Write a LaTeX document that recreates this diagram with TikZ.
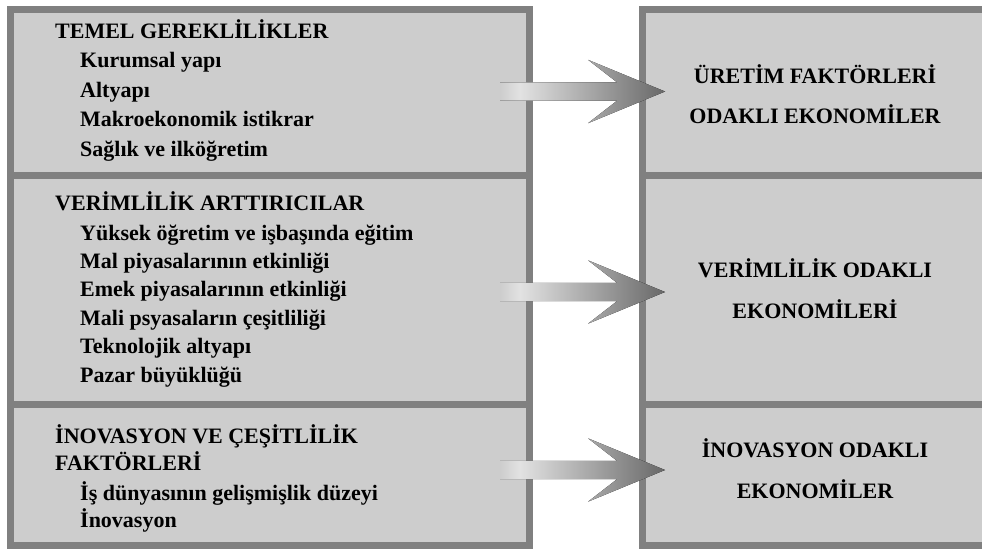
\documentclass[tikz,border=0pt]{standalone}
\usepackage{fontspec}
\setmainfont{Liberation Serif}
\definecolor{boxfill}{HTML}{CDCDCD}
\definecolor{boxline}{HTML}{808080}
\definecolor{arrlight}{HTML}{E2E2E2}
\definecolor{arrdark}{HTML}{686868}
\pgfdeclarehorizontalshading{arrowshade}{100bp}{color(0bp)=(boxfill); color(25bp)=(boxfill); color(31bp)=(arrlight); color(75bp)=(arrdark); color(100bp)=(arrdark)}
\begin{document}
\begin{tikzpicture}[x=1pt,y=-1pt,
  panel/.style={draw=boxline, fill=boxfill, line width=7pt, inner sep=0pt, outer sep=0pt, anchor=north west},
  head/.style={font=\fontsize{22}{26}\selectfont\bfseries, anchor=base west, inner sep=0pt},
  goal/.style={font=\fontsize{22}{26}\selectfont\bfseries, anchor=base, inner sep=0pt},
  bigarrow/.style={shading=arrowshade, draw=none}]
\useasboundingbox (0,0) rectangle (982,549);
\clip (0,0) rectangle (982,549);
% left column
\node[panel, minimum width=518.3pt, minimum height=165.3pt] (L1) at (10.7,9.7) {};
\node[panel, minimum width=518.3pt, minimum height=229pt] (L2) at (10.7,175) {};
\node[panel, minimum width=518.3pt, minimum height=141pt] (L3) at (10.7,404) {};
% right column
\node[panel, minimum width=346.5pt, minimum height=165.3pt] (R1) at (642.5,9.7) {};
\node[panel, minimum width=346.5pt, minimum height=229pt] (R2) at (642.5,175) {};
\node[panel, minimum width=346.5pt, minimum height=141pt] (R3) at (642.5,404) {};
% left texts
\node[head] (t1h) at (55,38) {TEMEL GEREKLİLİKLER};
\node[head] (t1a) at (80,67.5) {Kurumsal yapı};
\node[head] (t1b) at (80,97) {Altyapı};
\node[head] (t1c) at (80,126.5) {Makroekonomik istikrar};
\node[head] (t1d) at (80,156) {Sağlık ve ilköğretim};
\node[head] (t2h) at (55,210) {VERİMLİLİK ARTTIRICILAR};
\node[head] (t2a) at (80,240) {Yüksek öğretim ve işbaşında eğitim};
\node[head] (t2b) at (80,268) {Mal piyasalarının etkinliği};
\node[head] (t2c) at (80,296.5) {Emek piyasalarının etkinliği};
\node[head] (t2d) at (80,325) {Mali psyasaların çeşitliliği};
\node[head] (t2e) at (80,353) {Teknolojik altyapı};
\node[head] (t2f) at (80,382) {Pazar büyüklüğü};
\node[head] (t3h) at (55,443) {İNOVASYON VE ÇEŞİTLİLİK};
\node[head] (t3i) at (55,470) {FAKTÖRLERİ};
\node[head] (t3a) at (80,500) {İş dünyasının gelişmişlik düzeyi};
\node[head] (t3b) at (80,527) {İnovasyon};
% right texts
\node[goal] (g1a) at (815,83) {ÜRETİM FAKTÖRLERİ};
\node[goal] (g1b) at (815,123) {ODAKLI EKONOMİLER};
\node[goal] (g2a) at (815,277) {VERİMLİLİK ODAKLI};
\node[goal] (g2b) at (815,318) {EKONOMİLERİ};
\node[goal] (g3a) at (815,457) {İNOVASYON ODAKLI};
\node[goal] (g3b) at (815,498) {EKONOMİLER};
% arrows
\foreach \yc [count=\i] in {91.5,292,470}{
  \coordinate (tip\i) at (665,\yc);
  \fill[bigarrow] (tip\i) ++(-165,-9.2) -- ++(117,0) -- ++(-29,-22.5) -- ++(77,31.7) -- ++(-77,31.7) -- ++(29,-22.5) -- ++(-117,0) -- cycle;
}
\end{tikzpicture}
\end{document}
